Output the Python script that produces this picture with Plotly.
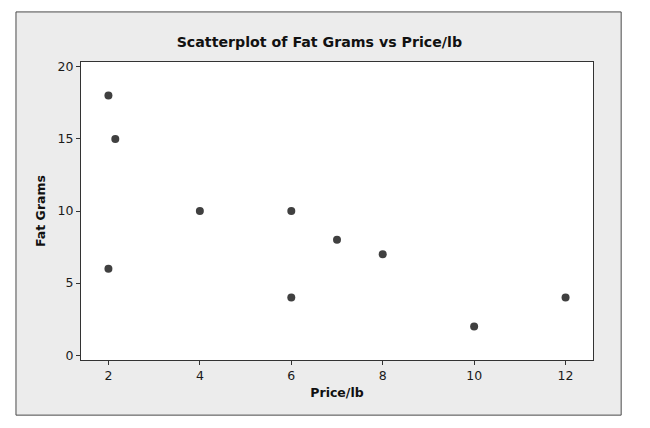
import plotly.graph_objects as go

price_per_lb = [2, 2.15, 2, 4, 6, 6, 7, 8, 10, 12]
fat_grams = [18, 15, 6, 10, 10, 4, 8, 7, 2, 4]

x_ticks = [2, 4, 6, 8, 10, 12]
y_ticks = [0, 5, 10, 15, 20]

FONT = "DejaVu Sans"

fig = go.Figure(
    [
        go.Scatter(
            x=price_per_lb,
            y=fat_grams,
            mode="markers",
            marker=dict(color="#404040", size=8),
            hoverinfo="x+y",
        )
    ]
)

# grey outer frame and white plot area, in paper coords of the plot area
fig.add_shape(
    type="rect", xref="paper", yref="paper",
    x0=-0.127, x1=1.055, y0=-0.185, y1=1.168,
    fillcolor="#ececec", line=dict(color="#4a4a4a", width=1), layer="below",
)
fig.add_shape(
    type="rect", xref="paper", yref="paper",
    x0=0, x1=1, y0=0, y1=1,
    fillcolor="white", line=dict(width=0), layer="below",
)

# page body has an 8px margin, so the figure is 8px smaller each way
fig.update_layout(
    width=642,
    height=420,
    margin=dict(l=73, r=57, t=54, b=68),
    paper_bgcolor="white",
    plot_bgcolor="rgba(0,0,0,0)",
    showlegend=False,
    font=dict(family=FONT, size=12.5, color="#1a1a1a"),
    title=dict(
        text="<b>Scatterplot of Fat Grams vs Price/lb</b>",
        x=0.485, xanchor="center", y=0.92, yanchor="middle",
        font=dict(family=FONT, size=14.2, color="#111111"),
    ),
)

fig.update_xaxes(
    range=[1.4, 12.6],
    tickvals=x_ticks,
    ticks="outside", ticklen=4, tickcolor="#333333",
    showline=True, linecolor="#333333", linewidth=1, mirror=True,
    showgrid=False, zeroline=False,
    title=dict(text="<b>Price/lb</b>", font=dict(size=12.5, color="#111111"), standoff=6),
)
fig.update_yaxes(
    range=[-0.33, 20.33],
    tickvals=y_ticks,
    ticks="outside", ticklen=4, tickcolor="#333333",
    showline=True, linecolor="#333333", linewidth=1, mirror=True,
    showgrid=False, zeroline=False,
    title=dict(text="<b>Fat Grams</b>", font=dict(size=12.5, color="#111111"), standoff=9),
)

fig.write_html("out.html")
